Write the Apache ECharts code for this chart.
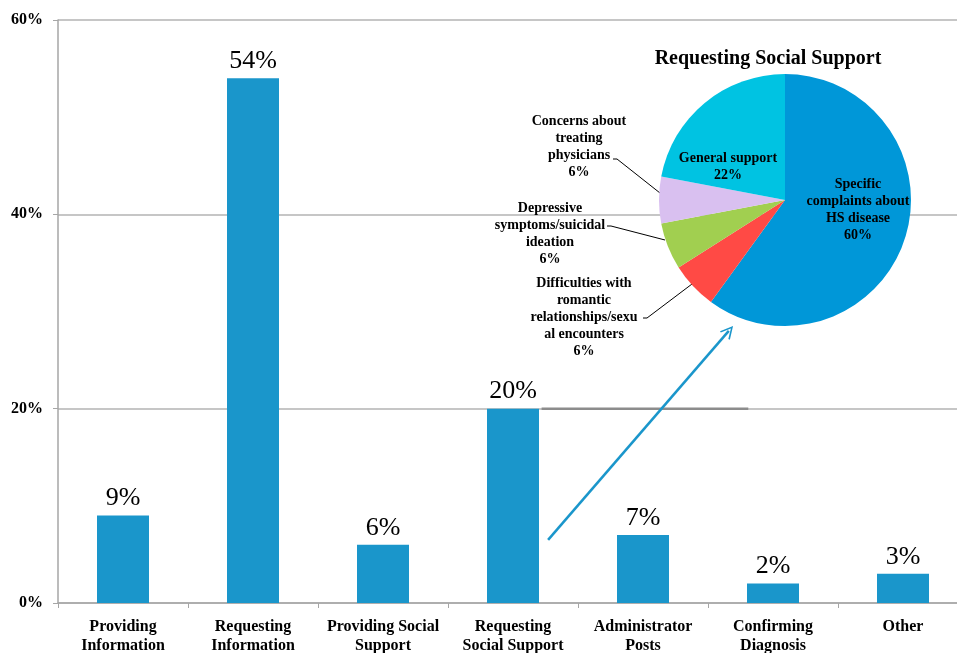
<!DOCTYPE html>
<html>
<head>
<meta charset="utf-8">
<script src="https://cdn.jsdelivr.net/npm/echarts@6/dist/echarts.min.js"></script>
<style>
  html, body { margin: 0; padding: 0; background: #fff; }
  #main { width: 957px; height: 653px; }
</style>
</head>
<body>
<div id="main"></div>
<script>
// Post categories and their share of all posts (%)
const categories = [
  'Providing\nInformation',
  'Requesting\nInformation',
  'Providing Social\nSupport',
  'Requesting\nSocial Support',
  'Administrator\nPosts',
  'Confirming\nDiagnosis',
  'Other'
];
const shares = [9, 54, 6, 20, 7, 2, 3];

// Breakdown of the "Requesting Social Support" posts (%)
const supportTopics = [
  'Specific\ncomplaints about\nHS disease',
  'Difficulties with\nromantic\nrelationships/sexu\nal encounters',
  'Depressive\nsymptoms/suicidal\nideation',
  'Concerns about\ntreating\nphysicians',
  'General support'
];
const supportShares = [60, 6, 6, 6, 22];
const supportColors = ['#0097d8', '#ff4a45', '#a1cf50', '#d9c0f0', '#00c3e2'];

const yTicks = [0, 20, 40, 60];

// Callout linking the "Requesting Social Support" bar to its breakdown pie,
// in units of the bar axes (category index, percent)
const calloutRule = [[3.22, 20], [4.81, 20]];
const calloutArrow = [[3.27, 6.5], [4.66, 28.0]];

const serif = '"Liberation Serif", "Times New Roman", serif';

// Where each pie label sits, and where its leader line bends
const pieLabelSpots = [
  { x: 858, y: 210 },
  { x: 584, y: 317, line: [[647, 318], [692, 284]] },
  { x: 550, y: 234, line: [[611, 226], [665, 240]] },
  { x: 579, y: 147, line: [[617, 159], [660, 193]] },
  { x: 728, y: 167 }
];

const chart = echarts.init(document.getElementById('main'));

chart.setOption({
  animation: false,
  backgroundColor: '#ffffff',
  title: {
    text: 'Requesting Social Support',
    left: 763,
    top: 44,
    textAlign: 'center',
    textStyle: { fontFamily: serif, fontWeight: 'bold', fontSize: 20, color: '#000' }
  },
  grid: {
    left: 58, width: 910, top: 20, bottom: 50,
    containLabel: false,
    outerBoundsMode: 'none'
  },
  xAxis: [
    {
      type: 'category',
      data: categories,
      boundaryGap: true,
      axisLine: { show: true, lineStyle: { color: '#a6a6a6', width: 1.5 } },
      axisTick: { show: true, length: 5, alignWithLabel: false, lineStyle: { color: '#a6a6a6' } },
      axisLabel: {
        interval: 0,
        margin: 14,
        fontFamily: serif,
        fontWeight: 'bold',
        fontSize: 16,
        lineHeight: 19,
        color: '#000'
      }
    },
    {
      // Same span as the categories, used only to place the callout
      type: 'value',
      min: -0.5,
      max: categories.length - 0.5,
      show: false
    }
  ],
  yAxis: {
    type: 'value',
    min: yTicks[0],
    max: yTicks[yTicks.length - 1],
    interval: 20,
    axisLine: { show: true, onZero: false, lineStyle: { color: '#a6a6a6', width: 1.5 } },
    axisTick: { show: true, length: 5, lineStyle: { color: '#a6a6a6' } },
    splitLine: { show: true, lineStyle: { color: '#b3b3b3', width: 1.5 } },
    axisLabel: {
      margin: 15,
      formatter: v => v + '%',
      fontFamily: serif,
      fontWeight: 'bold',
      fontSize: 16,
      color: '#000'
    }
  },
  series: [
    {
      type: 'bar',
      data: shares,
      barWidth: '40%',
      itemStyle: { color: '#1a96cb' },
      label: {
        show: true,
        position: 'top',
        distance: 4,
        formatter: '{c}%',
        fontFamily: serif,
        fontSize: 26,
        color: '#000'
      }
    },
    {
      type: 'line',
      xAxisIndex: 1,
      data: calloutRule,
      showSymbol: false,
      silent: true,
      z: 3,
      lineStyle: { color: '#8c8c8c', width: 2.5 },
      markLine: {
        silent: true,
        label: { show: false },
        symbol: ['none', 'path://M0,12L6,0L12,12L10.6,12.6L6,3.2L1.4,12.6Z'],
        symbolSize: [13, 13],
        lineStyle: { color: '#1a96cb', width: 2.5, type: 'solid' },
        data: [[{ coord: calloutArrow[0] }, { coord: calloutArrow[1] }]]
      }
    },
    {
      type: 'pie',
      center: [785, 200],
      radius: 126,
      startAngle: 90,
      clockwise: true,
      z: 5,
      data: supportTopics.map((name, i) => ({
        name: name,
        value: supportShares[i],
        itemStyle: { color: supportColors[i] },
        label: { position: pieLabelSpots[i].line ? 'outside' : 'inside' },
        labelLine: { show: !!pieLabelSpots[i].line }
      })),
      label: {
        show: true,
        formatter: p => p.name + '\n' + p.value + '%',
        fontFamily: serif,
        fontWeight: 'bold',
        fontSize: 14,
        lineHeight: 17,
        color: '#000',
        align: 'center'
      },
      labelLine: {
        show: true,
        length: 10,
        length2: 10,
        smooth: false,
        lineStyle: { color: '#000', width: 1 }
      },
      labelLayout: function (params) {
        const spot = pieLabelSpots[params.dataIndex];
        const out = { x: spot.x, y: spot.y, align: 'center', verticalAlign: 'middle' };
        if (spot.line) {
          out.labelLinePoints = [spot.line[1], spot.line[0], [spot.line[0][0] - 4, spot.line[0][1]]];
        }
        return out;
      }
    }
  ]
});
</script>
</body>
</html>
